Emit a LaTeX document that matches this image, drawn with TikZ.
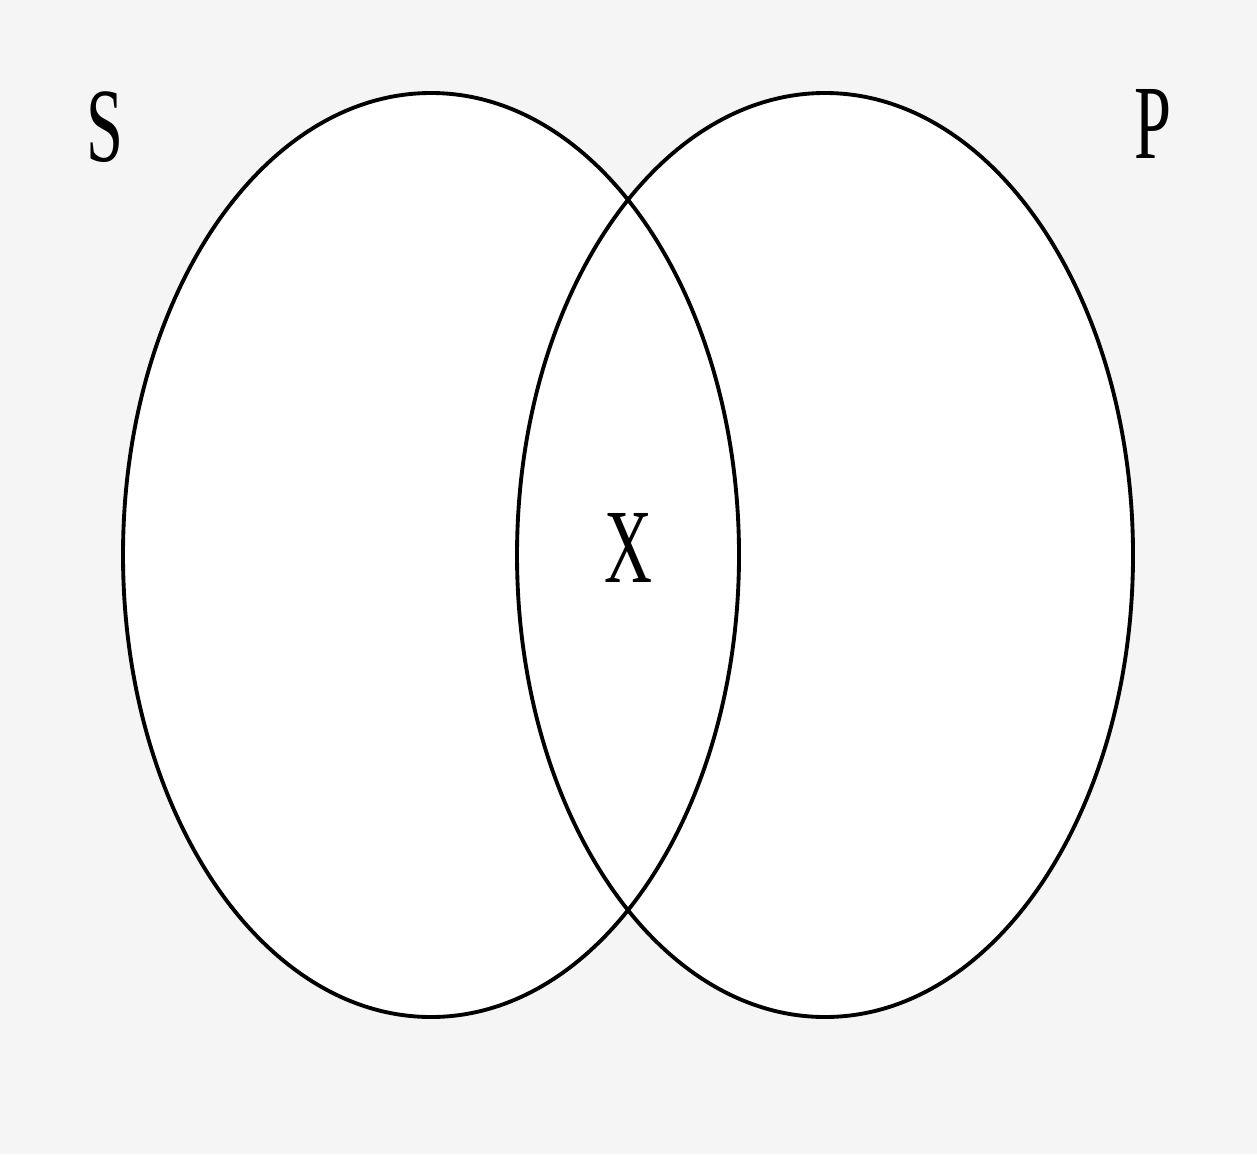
\documentclass[tikz,border=0pt]{standalone}
\usepackage{fontspec}
\setmainfont{Liberation Serif}
\usepackage{xcolor}
\definecolor{bggray}{HTML}{F5F5F5}
\usetikzlibrary{positioning}

\begin{document}
\begin{tikzpicture}[
  setline/.style={line width=1.1pt, draw=black},
  setlabel/.style={inner sep=0pt, font=\fontsize{30}{30}\selectfont, xscale=0.63, transform shape}
]
\fill[bggray] (0,0) rectangle (12.57,11.54);
\useasboundingbox (0,0) rectangle (12.57,11.54);
% the two sets
\fill[white] (4.31,5.99) ellipse [x radius=3.08, y radius=4.62];
\fill[white] (8.25,5.99) ellipse [x radius=3.08, y radius=4.62];
\draw[setline] (4.31,5.99) ellipse [x radius=3.08, y radius=4.62];
\draw[setline] (8.25,5.99) ellipse [x radius=3.08, y radius=4.62];
% labels
\node[setlabel] (S) at (1.05,10.27) {S};
\node[setlabel] (P) at (11.53,10.30) {P};
\node[setlabel] (X) at (6.28,6.06) {X};
\end{tikzpicture}
\end{document}
